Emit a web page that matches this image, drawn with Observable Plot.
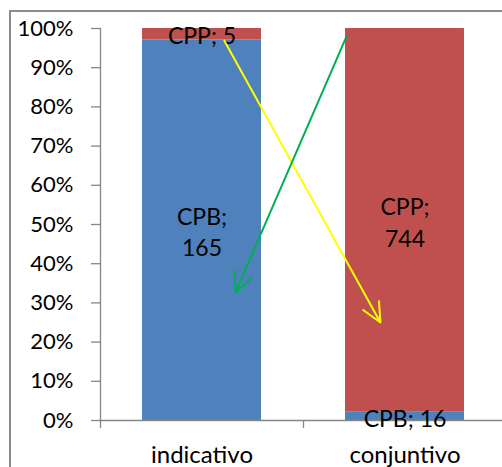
<!DOCTYPE html>
<html>
<head>
<meta charset="utf-8">
<script src="https://cdn.jsdelivr.net/npm/d3@7"></script>
<script src="https://cdn.jsdelivr.net/npm/@observablehq/plot@0.6"></script>
<style>
  html, body { margin: 0; padding: 0; background: #fff; }
  #wrap { position: relative; width: 502px; height: 467px; overflow: hidden; }
  #frame { position: absolute; left: 9px; top: 10px; width: 600px; height: 600px;
           border: 2px solid #8c8c8c; box-sizing: border-box; pointer-events: none; }
  svg { display: block; }
</style>
</head>
<body>
<div id="wrap"><div id="frame"></div></div>
<script>
// Data
const categories = ["indicativo", "conjuntivo"];
const series = ["CPB", "CPP"];
const cpbValues = [165, 16];
const cppValues = [5, 744];
const colors = ["#4F81BD", "#C0504D"];
const yTicks = [0, 10, 20, 30, 40, 50, 60, 70, 80, 90, 100];

// Annotation arrows (category index, percent)
const arrowFrom = [[0.11, 96.9], [0.712, 98.0]];
const arrowTo   = [[0.879, 25.0], [0.165, 32.7]];
const arrowColors = ["#FFFF00", "#00B050"];

// Build stacked table (percent of category total)
const rows = [];
categories.forEach((c, i) => {
  const vals = [cpbValues[i], cppValues[i]];
  const total = d3.sum(vals);
  let acc = 0;
  series.forEach((s, j) => {
    const p = vals[j] / total * 100;
    rows.push({i, category: c, series: s, value: vals[j], y1: acc, y2: acc + p, share: p});
    acc += p;
  });
});
const arrows = arrowFrom.map((f, k) => ({x1: f[0], y1: f[1], x2: arrowTo[k][0], y2: arrowTo[k][1], color: arrowColors[k]}));

const half = 0.293;
const gray = "#868686";
const font = "Lato, 'Open Sans', sans-serif";

const chart = Plot.plot({
  width: 502,
  height: 467,
  marginLeft: 100,
  marginTop: 28,
  marginBottom: 47,
  marginRight: 0,
  style: {fontFamily: font, fontSize: "23px", color: "#000", background: "transparent"},
  x: {domain: [-0.5, 1.5], range: [100, 506], axis: null},
  y: {domain: [0, 100], axis: null},
  color: {domain: series, range: colors},
  marks: [
    Plot.rect(rows, {x1: d => d.i - half, x2: d => d.i + half, y1: "y1", y2: "y2", fill: "series"}),
    Plot.ruleX([-0.5], {y1: 0, y2: 100, stroke: gray, strokeWidth: 1.3}),
    Plot.ruleY([0], {stroke: gray, strokeWidth: 1.3}),
    Plot.axisY({ticks: yTicks, tickSize: 9, tickPadding: 18, stroke: gray, strokeWidth: 1.3,
                tickFormat: d => d + "%", fontSize: 22, label: null}),
    Plot.axisX({ticks: [-0.5, 0.5, 1.5], tickSize: 8, stroke: gray, strokeWidth: 1.3, tickFormat: () => "", label: null}),
    Plot.axisX({ticks: [0, 1], tickSize: 0, tickPadding: 25, tickFormat: i => categories[i], fontSize: 24, label: null}),
    Plot.text(rows, {
      x: "i", y: d => (d.y1 + d.y2) / 2,
      text: d => d.share > 50 ? `${d.series};\n${d.value}` : `${d.series}; ${d.value}`,
      fontSize: 23, lineHeight: 1.39, fill: "#000"
    }),
    Plot.arrow(arrows, {x1: "x1", y1: "y1", x2: "x2", y2: "y2", stroke: "color",
                        strokeWidth: 2, headLength: 16, headAngle: 50})
  ]
});
document.getElementById("wrap").prepend(chart);
</script>
</body>
</html>
